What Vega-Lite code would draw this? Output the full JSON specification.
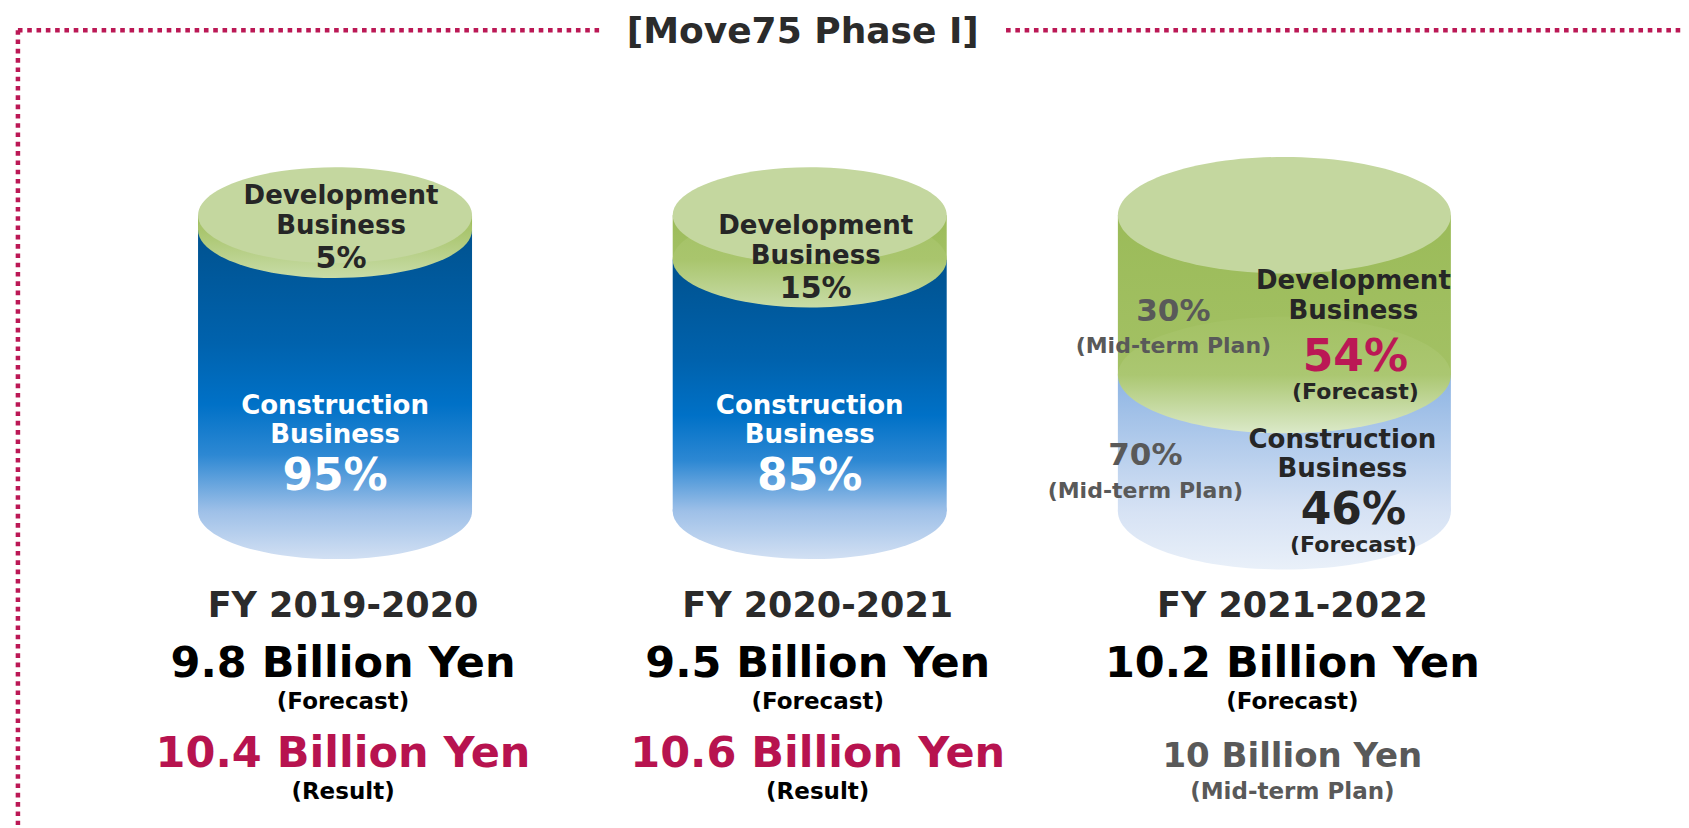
{
  "$schema": "https://vega.github.io/schema/vega-lite/v6.json",
  "width": 1689,
  "height": 828,
  "autosize": {"type": "fit", "contains": "padding"},
  "padding": 0,
  "background": "white",
  "config": {"view": {"stroke": null}},
  "datasets": {
    "segments": [
      {"year": 2019, "fy": "FY 2019-2020", "segment": "Development Business", "share": 0.05},
      {"year": 2019, "fy": "FY 2019-2020", "segment": "Construction Business", "share": 0.95},
      {"year": 2020, "fy": "FY 2020-2021", "segment": "Development Business", "share": 0.15},
      {"year": 2020, "fy": "FY 2020-2021", "segment": "Construction Business", "share": 0.85},
      {"year": 2021, "fy": "FY 2021-2022", "segment": "Development Business", "share": 0.54, "plan": 0.30},
      {"year": 2021, "fy": "FY 2021-2022", "segment": "Construction Business", "share": 0.46, "plan": 0.70}
    ],
    "sales": [
      {"year": 2019, "fy": "FY 2019-2020", "forecast": "9.8 Billion Yen", "second": "10.4 Billion Yen", "second_note": "(Result)"},
      {"year": 2020, "fy": "FY 2020-2021", "forecast": "9.5 Billion Yen", "second": "10.6 Billion Yen", "second_note": "(Result)"},
      {"year": 2021, "fy": "FY 2021-2022", "forecast": "10.2 Billion Yen", "second": "10 Billion Yen", "second_note": "(Mid-term Plan)"}
    ],
    "frame": [{"title": "[Move75 Phase I]"}]
  },
  "resolve": {"scale": {"size": "independent"}},
  "layer": [
    {
      "data": {"name": "frame"},
      "mark": {"type": "rule", "stroke": "#bb1855", "strokeWidth": 4.5, "strokeDash": [4.6, 4.7], "strokeCap": "butt"},
      "encoding": {
        "x": {"datum": 2018.33194, "type": "quantitative", "scale": {"domain": [2018.30471, 2021.84188], "nice": false, "zero": false}, "axis": null},
        "x2": {"datum": 2019.55707},
        "y": {"datum": -0.6253, "type": "quantitative", "scale": {"domain": [-0.72727, 2.06061], "nice": false, "zero": false, "reverse": true}, "axis": null}
      }
    },
    {
      "data": {"name": "frame"},
      "mark": {"type": "rule", "stroke": "#bb1855", "strokeWidth": 4.5, "strokeDash": [4.6, 4.7], "strokeCap": "butt"},
      "encoding": {
        "x": {"datum": 2020.41361, "type": "quantitative", "scale": {"domain": [2018.30471, 2021.84188], "nice": false, "zero": false}, "axis": null},
        "x2": {"datum": 2021.84188},
        "y": {"datum": -0.6253, "type": "quantitative", "scale": {"domain": [-0.72727, 2.06061], "nice": false, "zero": false, "reverse": true}, "axis": null}
      }
    },
    {
      "data": {"name": "frame"},
      "mark": {"type": "rule", "stroke": "#bb1855", "strokeWidth": 4.5, "strokeDash": [4.6, 4.7], "strokeCap": "butt"},
      "encoding": {
        "x": {"datum": 2018.33194, "type": "quantitative", "scale": {"domain": [2018.30471, 2021.84188], "nice": false, "zero": false}, "axis": null},
        "y": {"datum": -0.6253, "type": "quantitative", "scale": {"domain": [-0.72727, 2.06061], "nice": false, "zero": false, "reverse": true}, "axis": null},
        "y2": {"datum": 2.06061}
      }
    },
    {
      "data": {"name": "frame"},
      "mark": {"type": "text", "font": "DejaVu Sans", "fontWeight": "bold", "fontSize": 36, "fill": "#2b2b2b", "align": "center", "baseline": "alphabetic"},
      "encoding": {
        "x": {"datum": 2019.98534, "type": "quantitative", "scale": {"domain": [2018.30471, 2021.84188], "nice": false, "zero": false}, "axis": null},
        "y": {"datum": -0.58249, "type": "quantitative", "scale": {"domain": [-0.72727, 2.06061], "nice": false, "zero": false, "reverse": true}, "axis": null},
        "text": {"field": "title"}
      }
    },
    {
      "data": {"name": "segments"},
      "transform": [
        {"stack": "share", "groupby": ["year"], "sort": [{"field": "segment", "order": "descending"}], "as": ["y0", "y1"]},
        {"filter": "datum.segment == 'Construction Business'"}
      ],
      "mark": {"type": "point", "shape": "M-1,0A1,0.35,0,1,1,1,0A1,0.35,0,1,1,-1,0Z", "filled": true, "opacity": 1, "strokeWidth": 0},
      "encoding": {
        "x": {"field": "year", "type": "quantitative", "scale": {"domain": [2018.30471, 2021.84188], "nice": false, "zero": false}, "axis": null},
        "y": {"field": "y1", "type": "quantitative", "scale": {"domain": [-0.72727, 2.06061], "nice": false, "zero": false, "reverse": true}, "axis": null},
        "size": {"field": "year", "type": "quantitative", "scale": {"type": "threshold", "domain": [2020.5], "range": [75076, 110889]}, "legend": null},
        "fill": {
          "condition": {"test": "datum.year == 2021", "value": {"gradient": "linear", "x1": 0, "y1": 0, "x2": 0, "y2": 1, "stops": [{"offset": 0, "color": "#d6e2f4"}, {"offset": 0.5, "color": "#d6e2f4"}, {"offset": 1, "color": "#e9f0f9"}]}},
          "value": {"gradient": "linear", "x1": 0, "y1": 0, "x2": 0, "y2": 1, "stops": [{"offset": 0, "color": "#9ec0e8"}, {"offset": 0.5, "color": "#9ec0e8"}, {"offset": 1, "color": "#d2e0f3"}]}
        }
      }
    },
    {
      "data": {"name": "segments"},
      "transform": [
        {"stack": "share", "groupby": ["year"], "sort": [{"field": "segment", "order": "descending"}], "as": ["y0", "y1"]},
        {"filter": "datum.segment == 'Construction Business'"}
      ],
      "mark": {"type": "bar", "opacity": 1, "strokeWidth": 0},
      "encoding": {
        "x": {"field": "year", "type": "quantitative", "scale": {"domain": [2018.30471, 2021.84188], "nice": false, "zero": false}, "axis": null},
        "y": {"field": "y0", "type": "quantitative", "scale": {"domain": [-0.72727, 2.06061], "nice": false, "zero": false, "reverse": true}, "axis": null},
        "y2": {"field": "y1"},
        "size": {"field": "year", "type": "quantitative", "scale": {"type": "threshold", "domain": [2020.5], "range": [274, 333]}, "legend": null},
        "fill": {
          "condition": {"test": "datum.year == 2021", "value": {"gradient": "linear", "x1": 0, "y1": 0, "x2": 0, "y2": 1, "stops": [{"offset": 0, "color": "#8db4e3"}, {"offset": 1, "color": "#d6e2f4"}]}},
          "value": {"gradient": "linear", "x1": 0, "y1": 0, "x2": 0, "y2": 1, "stops": [{"offset": 0, "color": "#00528f"}, {"offset": 0.4, "color": "#0062ad"}, {"offset": 0.62, "color": "#0071c7"}, {"offset": 0.8, "color": "#2d88d3"}, {"offset": 1, "color": "#9ec0e8"}]}
        }
      }
    },
    {
      "data": {"name": "segments"},
      "transform": [
        {"stack": "share", "groupby": ["year"], "sort": [{"field": "segment", "order": "descending"}], "as": ["y0", "y1"]},
        {"filter": "datum.segment == 'Development Business'"}
      ],
      "mark": {"type": "bar", "opacity": 1, "strokeWidth": 0},
      "encoding": {
        "x": {"field": "year", "type": "quantitative", "scale": {"domain": [2018.30471, 2021.84188], "nice": false, "zero": false}, "axis": null},
        "y": {"field": "y0", "type": "quantitative", "scale": {"domain": [-0.72727, 2.06061], "nice": false, "zero": false, "reverse": true}, "axis": null},
        "y2": {"field": "y1"},
        "size": {"field": "year", "type": "quantitative", "scale": {"type": "threshold", "domain": [2020.5], "range": [274, 333]}, "legend": null},
        "fill": {"value": {"gradient": "linear", "x1": 0, "y1": 0, "x2": 0, "y2": 1, "stops": [{"offset": 0, "color": "#9bbb59"}, {"offset": 1, "color": "#a3c164"}]}}
      }
    },
    {
      "data": {"name": "segments"},
      "transform": [
        {"stack": "share", "groupby": ["year"], "sort": [{"field": "segment", "order": "descending"}], "as": ["y0", "y1"]},
        {"filter": "datum.segment == 'Development Business'"}
      ],
      "mark": {"type": "point", "shape": "M-1,0A1,0.35,0,1,1,1,0A1,0.35,0,1,1,-1,0Z", "filled": true, "opacity": 1, "strokeWidth": 0},
      "encoding": {
        "x": {"field": "year", "type": "quantitative", "scale": {"domain": [2018.30471, 2021.84188], "nice": false, "zero": false}, "axis": null},
        "y": {"field": "y1", "type": "quantitative", "scale": {"domain": [-0.72727, 2.06061], "nice": false, "zero": false, "reverse": true}, "axis": null},
        "size": {"field": "year", "type": "quantitative", "scale": {"type": "threshold", "domain": [2020.5], "range": [75076, 110889]}, "legend": null},
        "fill": {
          "condition": {"test": "datum.year == 2021", "value": {"gradient": "linear", "x1": 0, "y1": 0, "x2": 0, "y2": 1, "stops": [{"offset": 0, "color": "#a3c164"}, {"offset": 0.5, "color": "#abc771"}, {"offset": 1, "color": "#dbe9c9"}]}},
          "value": {"gradient": "linear", "x1": 0, "y1": 0, "x2": 0, "y2": 1, "stops": [{"offset": 0, "color": "#a3c164"}, {"offset": 0.5, "color": "#a9c56d"}, {"offset": 1, "color": "#c8dca7"}]}
        }
      }
    },
    {
      "data": {"name": "segments"},
      "transform": [
        {"stack": "share", "groupby": ["year"], "sort": [{"field": "segment", "order": "descending"}], "as": ["y0", "y1"]},
        {"filter": "datum.segment == 'Development Business'"}
      ],
      "mark": {"type": "point", "shape": "M-1,0A1,0.35,0,1,1,1,0A1,0.35,0,1,1,-1,0Z", "filled": true, "opacity": 1, "strokeWidth": 0, "fill": "#c4d79f"},
      "encoding": {
        "x": {"field": "year", "type": "quantitative", "scale": {"domain": [2018.30471, 2021.84188], "nice": false, "zero": false}, "axis": null},
        "y": {"field": "y0", "type": "quantitative", "scale": {"domain": [-0.72727, 2.06061], "nice": false, "zero": false, "reverse": true}, "axis": null},
        "size": {"field": "year", "type": "quantitative", "scale": {"type": "threshold", "domain": [2020.5], "range": [75076, 110889]}, "legend": null}
      }
    },
    {
      "data": {"name": "segments"},
      "transform": [{"filter": "datum.segment == 'Development Business' && datum.year < 2021"}],
      "mark": {"type": "text", "font": "DejaVu Sans", "fontWeight": "bold", "fontSize": 26, "fill": "#262626", "align": "center", "baseline": "alphabetic", "lineBreak": " ", "lineHeight": 30, "dy": -26, "dx": 6},
      "encoding": {
        "x": {"field": "year", "type": "quantitative", "scale": {"domain": [2018.30471, 2021.84188], "nice": false, "zero": false}, "axis": null},
        "y": {"field": "share", "type": "quantitative", "scale": {"domain": [-0.72727, 2.06061], "nice": false, "zero": false, "reverse": true}, "axis": null},
        "text": {"field": "segment"}
      }
    },
    {
      "data": {"name": "segments"},
      "transform": [{"filter": "datum.segment == 'Development Business' && datum.year < 2021"}],
      "mark": {"type": "text", "font": "DejaVu Sans", "fontWeight": "bold", "fontSize": 30, "fill": "#262626", "align": "center", "baseline": "alphabetic", "dy": 38, "dx": 6},
      "encoding": {
        "x": {"field": "year", "type": "quantitative", "scale": {"domain": [2018.30471, 2021.84188], "nice": false, "zero": false}, "axis": null},
        "y": {"field": "share", "type": "quantitative", "scale": {"domain": [-0.72727, 2.06061], "nice": false, "zero": false, "reverse": true}, "axis": null},
        "text": {"field": "share", "type": "quantitative", "format": ".0%"}
      }
    },
    {
      "data": {"name": "segments"},
      "transform": [{"filter": "datum.segment == 'Construction Business' && datum.year < 2021"}],
      "mark": {"type": "text", "font": "DejaVu Sans", "fontWeight": "bold", "fontSize": 26, "fill": "white", "align": "center", "baseline": "alphabetic", "lineBreak": " ", "lineHeight": 29, "dy": -97},
      "encoding": {
        "x": {"field": "year", "type": "quantitative", "scale": {"domain": [2018.30471, 2021.84188], "nice": false, "zero": false}, "axis": null},
        "y": {"datum": 1, "type": "quantitative", "scale": {"domain": [-0.72727, 2.06061], "nice": false, "zero": false, "reverse": true}, "axis": null},
        "text": {"field": "segment"}
      }
    },
    {
      "data": {"name": "segments"},
      "transform": [{"filter": "datum.segment == 'Construction Business' && datum.year < 2021"}],
      "mark": {"type": "text", "font": "DejaVu Sans", "fontWeight": "bold", "fontSize": 44, "fill": "white", "align": "center", "baseline": "alphabetic", "dy": -21},
      "encoding": {
        "x": {"field": "year", "type": "quantitative", "scale": {"domain": [2018.30471, 2021.84188], "nice": false, "zero": false}, "axis": null},
        "y": {"datum": 1, "type": "quantitative", "scale": {"domain": [-0.72727, 2.06061], "nice": false, "zero": false, "reverse": true}, "axis": null},
        "text": {"field": "share", "type": "quantitative", "format": ".0%"}
      }
    },
    {
      "data": {"name": "segments"},
      "transform": [{"filter": "datum.segment == 'Development Business' && datum.year == 2021"}],
      "mark": {"type": "text", "font": "DejaVu Sans", "fontWeight": "bold", "fontSize": 26, "fill": "#262626", "align": "center", "baseline": "alphabetic", "lineBreak": " ", "lineHeight": 30, "dy": -86, "dx": 69},
      "encoding": {
        "x": {"field": "year", "type": "quantitative", "scale": {"domain": [2018.30471, 2021.84188], "nice": false, "zero": false}, "axis": null},
        "y": {"field": "share", "type": "quantitative", "scale": {"domain": [-0.72727, 2.06061], "nice": false, "zero": false, "reverse": true}, "axis": null},
        "text": {"field": "segment"}
      }
    },
    {
      "data": {"name": "segments"},
      "transform": [{"filter": "datum.segment == 'Development Business' && datum.year == 2021"}],
      "mark": {"type": "text", "font": "DejaVu Sans", "fontWeight": "bold", "fontSize": 44, "fill": "#bb1855", "align": "center", "baseline": "alphabetic", "dy": -4, "dx": 71},
      "encoding": {
        "x": {"field": "year", "type": "quantitative", "scale": {"domain": [2018.30471, 2021.84188], "nice": false, "zero": false}, "axis": null},
        "y": {"field": "share", "type": "quantitative", "scale": {"domain": [-0.72727, 2.06061], "nice": false, "zero": false, "reverse": true}, "axis": null},
        "text": {"field": "share", "type": "quantitative", "format": ".0%"}
      }
    },
    {
      "data": {"name": "segments"},
      "transform": [{"filter": "datum.segment == 'Development Business' && datum.year == 2021"}],
      "mark": {"type": "text", "text": "(Forecast)", "font": "DejaVu Sans", "fontWeight": "bold", "fontSize": 22, "fill": "#262626", "align": "center", "baseline": "alphabetic", "dy": 24, "dx": 71},
      "encoding": {
        "x": {"field": "year", "type": "quantitative", "scale": {"domain": [2018.30471, 2021.84188], "nice": false, "zero": false}, "axis": null},
        "y": {"field": "share", "type": "quantitative", "scale": {"domain": [-0.72727, 2.06061], "nice": false, "zero": false, "reverse": true}, "axis": null}
      }
    },
    {
      "data": {"name": "segments"},
      "transform": [{"filter": "datum.segment == 'Development Business' && datum.year == 2021"}],
      "mark": {"type": "text", "font": "DejaVu Sans", "fontWeight": "bold", "fontSize": 31, "fill": "#595959", "align": "center", "baseline": "alphabetic", "dy": -54, "dx": -111},
      "encoding": {
        "x": {"field": "year", "type": "quantitative", "scale": {"domain": [2018.30471, 2021.84188], "nice": false, "zero": false}, "axis": null},
        "y": {"field": "share", "type": "quantitative", "scale": {"domain": [-0.72727, 2.06061], "nice": false, "zero": false, "reverse": true}, "axis": null},
        "text": {"field": "plan", "type": "quantitative", "format": ".0%"}
      }
    },
    {
      "data": {"name": "segments"},
      "transform": [{"filter": "datum.segment == 'Development Business' && datum.year == 2021"}],
      "mark": {"type": "text", "text": "(Mid-term Plan)", "font": "DejaVu Sans", "fontWeight": "bold", "fontSize": 22, "fill": "#595959", "align": "center", "baseline": "alphabetic", "dy": -22, "dx": -111},
      "encoding": {
        "x": {"field": "year", "type": "quantitative", "scale": {"domain": [2018.30471, 2021.84188], "nice": false, "zero": false}, "axis": null},
        "y": {"field": "share", "type": "quantitative", "scale": {"domain": [-0.72727, 2.06061], "nice": false, "zero": false, "reverse": true}, "axis": null}
      }
    },
    {
      "data": {"name": "segments"},
      "transform": [{"filter": "datum.segment == 'Construction Business' && datum.year == 2021"}],
      "mark": {"type": "text", "font": "DejaVu Sans", "fontWeight": "bold", "fontSize": 26, "fill": "#262626", "align": "center", "baseline": "alphabetic", "lineBreak": " ", "lineHeight": 29, "dy": -63, "dx": 58},
      "encoding": {
        "x": {"field": "year", "type": "quantitative", "scale": {"domain": [2018.30471, 2021.84188], "nice": false, "zero": false}, "axis": null},
        "y": {"datum": 1, "type": "quantitative", "scale": {"domain": [-0.72727, 2.06061], "nice": false, "zero": false, "reverse": true}, "axis": null},
        "text": {"field": "segment"}
      }
    },
    {
      "data": {"name": "segments"},
      "transform": [{"filter": "datum.segment == 'Construction Business' && datum.year == 2021"}],
      "mark": {"type": "text", "font": "DejaVu Sans", "fontWeight": "bold", "fontSize": 44, "fill": "#262626", "align": "center", "baseline": "alphabetic", "dy": 13, "dx": 69},
      "encoding": {
        "x": {"field": "year", "type": "quantitative", "scale": {"domain": [2018.30471, 2021.84188], "nice": false, "zero": false}, "axis": null},
        "y": {"datum": 1, "type": "quantitative", "scale": {"domain": [-0.72727, 2.06061], "nice": false, "zero": false, "reverse": true}, "axis": null},
        "text": {"field": "share", "type": "quantitative", "format": ".0%"}
      }
    },
    {
      "data": {"name": "segments"},
      "transform": [{"filter": "datum.segment == 'Construction Business' && datum.year == 2021"}],
      "mark": {"type": "text", "text": "(Forecast)", "font": "DejaVu Sans", "fontWeight": "bold", "fontSize": 22, "fill": "#262626", "align": "center", "baseline": "alphabetic", "dy": 41, "dx": 69},
      "encoding": {
        "x": {"field": "year", "type": "quantitative", "scale": {"domain": [2018.30471, 2021.84188], "nice": false, "zero": false}, "axis": null},
        "y": {"datum": 1, "type": "quantitative", "scale": {"domain": [-0.72727, 2.06061], "nice": false, "zero": false, "reverse": true}, "axis": null}
      }
    },
    {
      "data": {"name": "segments"},
      "transform": [{"filter": "datum.segment == 'Construction Business' && datum.year == 2021"}],
      "mark": {"type": "text", "font": "DejaVu Sans", "fontWeight": "bold", "fontSize": 31, "fill": "#595959", "align": "center", "baseline": "alphabetic", "dy": -46, "dx": -139},
      "encoding": {
        "x": {"field": "year", "type": "quantitative", "scale": {"domain": [2018.30471, 2021.84188], "nice": false, "zero": false}, "axis": null},
        "y": {"datum": 1, "type": "quantitative", "scale": {"domain": [-0.72727, 2.06061], "nice": false, "zero": false, "reverse": true}, "axis": null},
        "text": {"field": "plan", "type": "quantitative", "format": ".0%"}
      }
    },
    {
      "data": {"name": "segments"},
      "transform": [{"filter": "datum.segment == 'Construction Business' && datum.year == 2021"}],
      "mark": {"type": "text", "text": "(Mid-term Plan)", "font": "DejaVu Sans", "fontWeight": "bold", "fontSize": 22, "fill": "#595959", "align": "center", "baseline": "alphabetic", "dy": -13, "dx": -139},
      "encoding": {
        "x": {"field": "year", "type": "quantitative", "scale": {"domain": [2018.30471, 2021.84188], "nice": false, "zero": false}, "axis": null},
        "y": {"datum": 1, "type": "quantitative", "scale": {"domain": [-0.72727, 2.06061], "nice": false, "zero": false, "reverse": true}, "axis": null}
      }
    },
    {
      "data": {"name": "sales"},
      "mark": {"type": "text", "font": "DejaVu Sans", "fontWeight": "bold", "fontSize": 35, "fill": "#2b2b2b", "align": "center", "baseline": "alphabetic", "dy": 106, "dx": 8},
      "encoding": {
        "x": {"field": "year", "type": "quantitative", "scale": {"domain": [2018.30471, 2021.84188], "nice": false, "zero": false}, "axis": null},
        "y": {"datum": 1, "type": "quantitative", "scale": {"domain": [-0.72727, 2.06061], "nice": false, "zero": false, "reverse": true}, "axis": null},
        "text": {"field": "fy"}
      }
    },
    {
      "data": {"name": "sales"},
      "mark": {"type": "text", "font": "DejaVu Sans", "fontWeight": "bold", "fontSize": 43, "fill": "#000000", "align": "center", "baseline": "alphabetic", "dy": 166, "dx": 8},
      "encoding": {
        "x": {"field": "year", "type": "quantitative", "scale": {"domain": [2018.30471, 2021.84188], "nice": false, "zero": false}, "axis": null},
        "y": {"datum": 1, "type": "quantitative", "scale": {"domain": [-0.72727, 2.06061], "nice": false, "zero": false, "reverse": true}, "axis": null},
        "text": {"field": "forecast"}
      }
    },
    {
      "data": {"name": "sales"},
      "mark": {"type": "text", "text": "(Forecast)", "font": "DejaVu Sans", "fontWeight": "bold", "fontSize": 23, "fill": "#000000", "align": "center", "baseline": "alphabetic", "dy": 198, "dx": 8},
      "encoding": {
        "x": {"field": "year", "type": "quantitative", "scale": {"domain": [2018.30471, 2021.84188], "nice": false, "zero": false}, "axis": null},
        "y": {"datum": 1, "type": "quantitative", "scale": {"domain": [-0.72727, 2.06061], "nice": false, "zero": false, "reverse": true}, "axis": null}
      }
    },
    {
      "data": {"name": "sales"},
      "mark": {"type": "text", "font": "DejaVu Sans", "fontWeight": "bold", "align": "center", "baseline": "alphabetic", "dy": 256, "dx": 8},
      "encoding": {
        "x": {"field": "year", "type": "quantitative", "scale": {"domain": [2018.30471, 2021.84188], "nice": false, "zero": false}, "axis": null},
        "y": {"datum": 1, "type": "quantitative", "scale": {"domain": [-0.72727, 2.06061], "nice": false, "zero": false, "reverse": true}, "axis": null},
        "text": {"field": "second"},
        "size": {"condition": {"test": "datum.year == 2021", "value": 34}, "value": 43},
        "fill": {"condition": {"test": "datum.year == 2021", "value": "#595959"}, "value": "#b7134f"}
      }
    },
    {
      "data": {"name": "sales"},
      "mark": {"type": "text", "font": "DejaVu Sans", "fontWeight": "bold", "fontSize": 23, "align": "center", "baseline": "alphabetic", "dy": 288, "dx": 8},
      "encoding": {
        "x": {"field": "year", "type": "quantitative", "scale": {"domain": [2018.30471, 2021.84188], "nice": false, "zero": false}, "axis": null},
        "y": {"datum": 1, "type": "quantitative", "scale": {"domain": [-0.72727, 2.06061], "nice": false, "zero": false, "reverse": true}, "axis": null},
        "text": {"field": "second_note"},
        "fill": {"condition": {"test": "datum.year == 2021", "value": "#595959"}, "value": "#000000"}
      }
    }
  ]
}
